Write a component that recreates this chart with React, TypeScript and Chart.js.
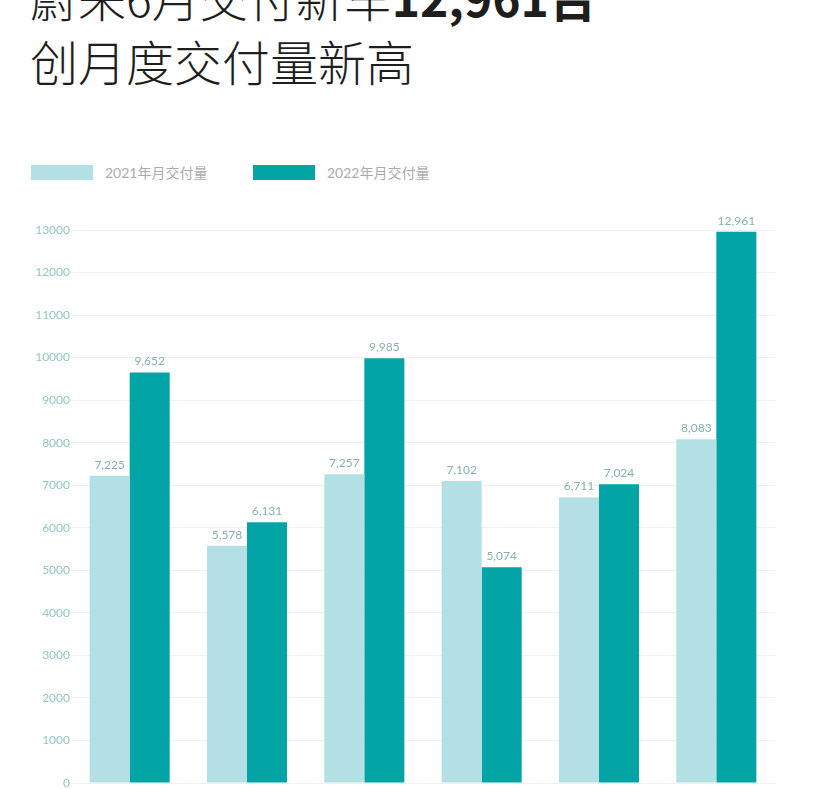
import Chart from "chart.js/auto";
import { useEffect, useRef } from "react";

const months = ["1月", "2月", "3月", "4月", "5月", "6月"];
const deliveries2021 = [7225, 5578, 7257, 7102, 6711, 8083];
const deliveries2022 = [9652, 6131, 9985, 5074, 7024, 12961];
const seriesLabels = ["2021年月交付量", "2022年月交付量"];
const seriesColors = ["#b2e0e4", "#03a4a6"];
const yTicks = [0, 1000, 2000, 3000, 4000, 5000, 6000, 7000, 8000, 9000, 10000, 11000, 12000, 13000];

const FONT = "Lato, 'Noto Sans', 'Noto Sans CJK SC', sans-serif";

// draws the value above each bar, with a thousands comma
const barValueLabels = {
  id: "barValueLabels",
  afterDatasetsDraw(chart: Chart) {
    const { ctx } = chart;
    ctx.save();
    ctx.font = `12px ${FONT}`;
    ctx.fillStyle = "#86b0af";
    ctx.textAlign = "center";
    ctx.textBaseline = "bottom";
    chart.data.datasets.forEach((dataset, di) => {
      const meta = chart.getDatasetMeta(di);
      meta.data.forEach((bar, i) => {
        const value = dataset.data[i] as number;
        ctx.fillText(value.toLocaleString("en-US"), bar.x, bar.y - 5);
      });
    });
    ctx.restore();
  },
};

function DeliveryChart() {
  const canvasRef = useRef<HTMLCanvasElement>(null);

  useEffect(() => {
    if (!canvasRef.current) return;
    const chart = new Chart(canvasRef.current, {
      type: "bar",
      data: {
        labels: months,
        datasets: [
          {
            label: seriesLabels[0],
            data: deliveries2021,
            backgroundColor: seriesColors[0],
            barPercentage: 1,
            categoryPercentage: 0.682,
          },
          {
            label: seriesLabels[1],
            data: deliveries2022,
            backgroundColor: seriesColors[1],
            barPercentage: 1,
            categoryPercentage: 0.682,
          },
        ],
      },
      options: {
        responsive: false,
        animation: false,
        layout: { padding: { top: 36, right: 46, bottom: 3, left: 0 } },
        plugins: {
          legend: { display: false },
          tooltip: { enabled: false },
        },
        scales: {
          x: {
            ticks: { display: false },
            grid: { display: false },
            border: { display: false },
          },
          y: {
            min: 0,
            max: 13000,
            afterFit: (scale) => {
              scale.width = 71;
            },
            afterBuildTicks: (scale) => {
              scale.ticks = yTicks.map((value) => ({ value }));
            },
            ticks: {
              padding: 1,
              color: "#94c6c2",
              font: { family: FONT, size: 12 },
              callback: (value) => String(value),
            },
            grid: { color: "#f0f0f0", drawTicks: false },
            border: { display: false },
          },
        },
      },
      plugins: [barValueLabels],
    });
    return () => chart.destroy();
  }, []);

  return (
    <canvas
      ref={canvasRef}
      width={821}
      height={600}
      style={{ position: "absolute", left: 0, top: 194, width: 821, height: 600 }}
    />
  );
}

export default function App() {
  return (
    <div style={{ position: "fixed", inset: 0, background: "#fff", overflow: "hidden" }}>
      <div
        style={{
          position: "absolute",
          left: 30,
          top: -36,
          fontFamily: "'Noto Sans CJK SC', sans-serif",
          fontSize: 48,
          fontWeight: 300,
          lineHeight: "64px",
          color: "#1e1e1e",
          whiteSpace: "nowrap",
        }}
      >
        <div>
          蔚来6月交付新车<b style={{ fontWeight: 700 }}>12,961台</b>
        </div>
        <div>创月度交付量新高</div>
      </div>
      <div
        style={{
          position: "absolute",
          top: 162,
          left: 31,
          display: "flex",
          fontFamily: FONT,
          fontSize: 14,
          color: "#ababab",
        }}
      >
        {seriesLabels.map((label, i) => (
          <div key={label} style={{ display: "flex", alignItems: "center", width: 222 }}>
            <span
              style={{
                display: "inline-block",
                width: 62,
                height: 15,
                background: seriesColors[i],
                marginRight: 12,
              }}
            />
            <span>{label}</span>
          </div>
        ))}
      </div>
      <DeliveryChart />
    </div>
  );
}
